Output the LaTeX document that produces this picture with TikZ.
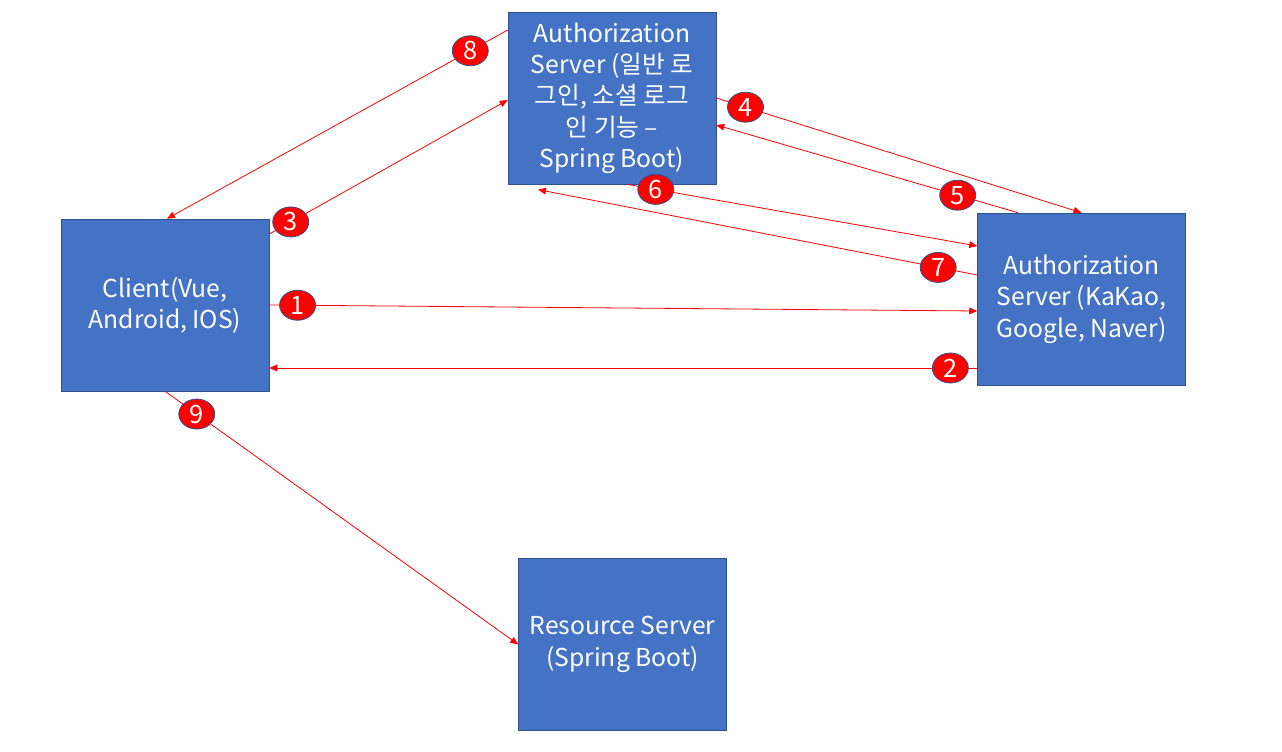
\documentclass[tikz,border=0pt]{standalone}
\usepackage{fontspec}
\setmainfont{Noto Sans CJK KR}
\usetikzlibrary{positioning,arrows.meta,shapes.geometric}

\definecolor{boxblue}{HTML}{4472C4}
\definecolor{boxedge}{HTML}{2F528F}

\tikzset{
  server/.style={draw=boxedge, fill=boxblue, text=white, align=center,
    minimum width=156pt, minimum height=129pt, inner sep=2pt,
    font=\fontsize{18.5}{23.5}\selectfont},
  flow/.style={red, line width=0.6pt, -{Triangle[length=6pt,width=5pt]}},
  badge/.style={ellipse, draw=boxedge, fill=red, text=white, line width=0.6pt,
    minimum width=27pt, minimum height=22.5pt, inner sep=0pt,
    font=\fontsize{19}{19}\selectfont}
}

\begin{document}
\begin{tikzpicture}[x=0.75pt, y=-0.75pt]
\useasboundingbox (0,0) rectangle (1282,752);

% Servers
\node[server] (authtop) at (612,98) {Authorization\\Server (일반 로\\그인, 소셜 로그\\인 기능 –\\Spring Boot)};
\node[server] (client) at (165,305) {Client(Vue,\\Android, IOS)};
\node[server] (social) at (1081.5,299) {Authorization\\Server (KaKao,\\Google, Naver)};
\node[server] (resource) at (622.5,644.5) {Resource Server\\(Spring Boot)};

% Flows
\draw[flow] (client.east) -- ([yshift=-9pt]social.west) node[badge, pos=0.04] (n1) {1};
\draw[flow] ([yshift=-51.75pt]social.west) -- ([yshift=-47.25pt]client.east) node[badge, pos=0.038] (n2) {2};
\draw[flow] ([yshift=53.25pt]client.east) -- ([yshift=-1.5pt]authtop.west) node[badge, pos=0.09] (n3) {3};
\draw[flow] (authtop.east) -- (social.north) node[badge, pos=0.08] (n4) {4};
\draw[flow] ([xshift=-47.6pt]social.north) -- ([yshift=-20.25pt]authtop.east) node[badge, pos=0.2] (n5) {5};
\draw[flow] ([xshift=11pt]authtop.south) -- ([yshift=39.75pt]social.west) node[badge, pos=0.083] (n6) {6};
\draw[flow] ([yshift=18pt]social.west) -- ([xshift=-55.5pt,yshift=-4pt]authtop.south) node[badge, pos=0.089] (n7) {7};
\draw[flow] ([yshift=51pt]authtop.west) -- ([xshift=1.5pt]client.north) node[badge, pos=0.11] (n8) {8};
\draw[flow] (client.south) -- (resource.west) node[badge, pos=0.09] (n9) {9};

\end{tikzpicture}
\end{document}
